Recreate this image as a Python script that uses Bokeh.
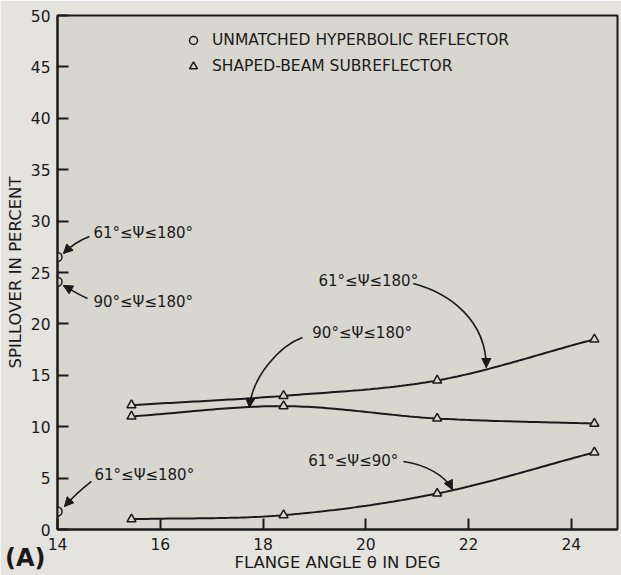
import numpy as np
from bokeh.plotting import figure
from bokeh.models import (Range1d, FixedTicker, Label, Arrow, NormalHead,
                          Legend, LegendItem, ColumnDataSource)
from bokeh.models.dom import Div as DomDiv
from bokeh.embed import file_html
from bokeh.resources import INLINE

# ---------------- data ----------------
flange_deg = [15.44, 18.40, 21.39, 24.45]
shaped_61_180 = [12.1, 13.0, 14.5, 18.5]
shaped_90_180 = [11.0, 12.0, 10.8, 10.3]
shaped_61_90 = [1.0, 1.4, 3.5, 7.5]

unmatched_x = [14.0, 14.0, 14.0]
unmatched_y = [26.5, 24.1, 1.75]

x_ticks = [14, 16, 18, 20, 22, 24]
y_ticks = [0, 5, 10, 15, 20, 25, 30, 35, 40, 45, 50]

INK = "#1a1a1a"
BG_IN = "#d7d6cf"
BG_OUT = "#e4e3de"
FONT = "DejaVu Sans"

p = figure(width=621, height=575, output_backend="svg", toolbar_location=None,
           x_range=Range1d(14, 24.9), y_range=Range1d(0, 50),
           min_border_left=57, min_border_right=4, min_border_top=15,
           min_border_bottom=46)
p.background_fill_color = BG_IN
p.border_fill_color = BG_OUT
p.outline_line_color = INK
p.outline_line_width = 2
p.xgrid.visible = False
p.ygrid.visible = False

for ax, ticks in ((p.xaxis[0], x_ticks), (p.yaxis[0], y_ticks)):
    ax.ticker = FixedTicker(ticks=ticks)
    ax.axis_line_color = INK
    ax.axis_line_width = 2
    ax.major_tick_in = 11
    ax.major_tick_out = 0
    ax.major_tick_line_color = INK
    ax.major_tick_line_width = 2
    ax.minor_tick_line_color = None
    ax.major_label_text_font = FONT
    ax.major_label_text_font_size = "15.5px"
    ax.major_label_text_color = INK
    ax.axis_label_text_font = FONT
    ax.axis_label_text_font_size = "16.5px"
    ax.axis_label_text_font_style = "normal"
    ax.axis_label_text_color = INK
p.xaxis[0].major_label_standoff = 8
p.yaxis[0].major_label_standoff = 7
p.xaxis[0].axis_label = "FLANGE ANGLE θ IN DEG"
p.xaxis[0].axis_label_standoff = 0
p.yaxis[0].axis_label = "SPILLOVER IN PERCENT"
p.yaxis[0].axis_label_standoff = 3


def smooth(xs, ys, n=40):
    xs = np.asarray(xs, float)
    ys = np.asarray(ys, float)
    m = np.gradient(ys, xs)
    out_x, out_y = [], []
    for i in range(len(xs) - 1):
        h = xs[i + 1] - xs[i]
        t = np.linspace(0, 1, n)
        h00 = 2 * t**3 - 3 * t**2 + 1
        h10 = t**3 - 2 * t**2 + t
        h01 = -2 * t**3 + 3 * t**2
        h11 = t**3 - t**2
        out_x.extend(xs[i] + t * h)
        out_y.extend(h00 * ys[i] + h10 * h * m[i] + h01 * ys[i + 1] + h11 * h * m[i + 1])
    return out_x, out_y


for ys in (shaped_61_180, shaped_90_180, shaped_61_90):
    sx, sy = smooth(flange_deg, ys)
    p.line(sx, sy, line_color=INK, line_width=2)

tri_r = None
for ys in (shaped_61_180, shaped_90_180, shaped_61_90):
    tri_r = p.scatter(flange_deg, ys, marker="triangle", size=9,
                      line_color=INK, line_width=1.5, fill_color=BG_IN)

circ_r = p.scatter(unmatched_x, unmatched_y, marker="circle", size=9,
                   line_color=INK, line_width=1.5, fill_color=BG_IN)

legend = Legend(items=[LegendItem(label="UNMATCHED HYPERBOLIC REFLECTOR", renderers=[circ_r]),
                       LegendItem(label="SHAPED-BEAM SUBREFLECTOR", renderers=[tri_r])],
                location=(126, 453), padding=0, spacing=6, margin=0,
                glyph_width=20, glyph_height=20, label_height=20,
                label_standoff=9, background_fill_alpha=0, border_line_color=None,
                label_text_font=FONT, label_text_font_size="15.5px",
                label_text_color=INK)
p.add_layout(legend)

# ---------------- annotations ----------------
notes = [
    (14.70, 28.82, "61°≤Ψ≤180°"),
    (14.70, 22.11, "90°≤Ψ≤180°"),
    (14.72, 5.35, "61°≤Ψ≤180°"),
    (18.96, 19.16, "90°≤Ψ≤180°"),
    (19.08, 24.22, "61°≤Ψ≤180°"),
    (18.88, 6.71, "61°≤Ψ≤90°"),
]
for x, y, t in notes:
    p.add_layout(Label(x=x, y=y, text=t, text_baseline="middle", text_align="left",
                       text_font=FONT, text_font_size="15px", text_color=INK))

# curved leaders: start, cp0, cp1, end
curves = [
    (14.623, 28.50, 14.409, 28.11, 14.253, 27.53, 14.117, 26.85),
    (14.584, 22.47, 14.409, 22.86, 14.253, 23.35, 14.117, 23.74),
    (14.661, 4.67, 14.486, 3.99, 14.292, 3.11, 14.136, 2.24),
    (18.767, 18.68, 18.339, 17.90, 17.794, 14.98, 17.735, 11.87),
    (20.926, 23.93, 21.646, 22.96, 22.346, 20.33, 22.346, 15.76),
    (20.732, 6.61, 21.159, 6.32, 21.549, 5.25, 21.685, 3.89),
]
cs = ColumnDataSource(dict(
    x0=[c[0] for c in curves], y0=[c[1] for c in curves],
    cx0=[c[2] for c in curves], cy0=[c[3] for c in curves],
    cx1=[c[4] for c in curves], cy1=[c[5] for c in curves],
    x1=[c[6] for c in curves], y1=[c[7] for c in curves]))
p.bezier(x0="x0", y0="y0", x1="x1", y1="y1", cx0="cx0", cy0="cy0",
         cx1="cx1", cy1="cy1", source=cs, line_color=INK, line_width=1.6)
for c in curves:
    p.add_layout(Arrow(x_start=c[4], y_start=c[5], x_end=c[6], y_end=c[7],
                       line_color=None,
                       end=NormalHead(size=9, fill_color=INK, line_color=INK, line_width=1)))

# panel tag "(A)" as a floating DOM element over the plot's bottom-left corner
tag = DomDiv(style={"position": "absolute", "left": "5px", "top": "544px",
                    "font-family": "DejaVu Sans", "font-size": "24px",
                    "font-weight": "bold", "color": INK, "line-height": "28px",
                    "z-index": "10"},
             children=["(A)"])
p.elements = [tag]

open("out.html", "w").write(file_html(p, INLINE))
